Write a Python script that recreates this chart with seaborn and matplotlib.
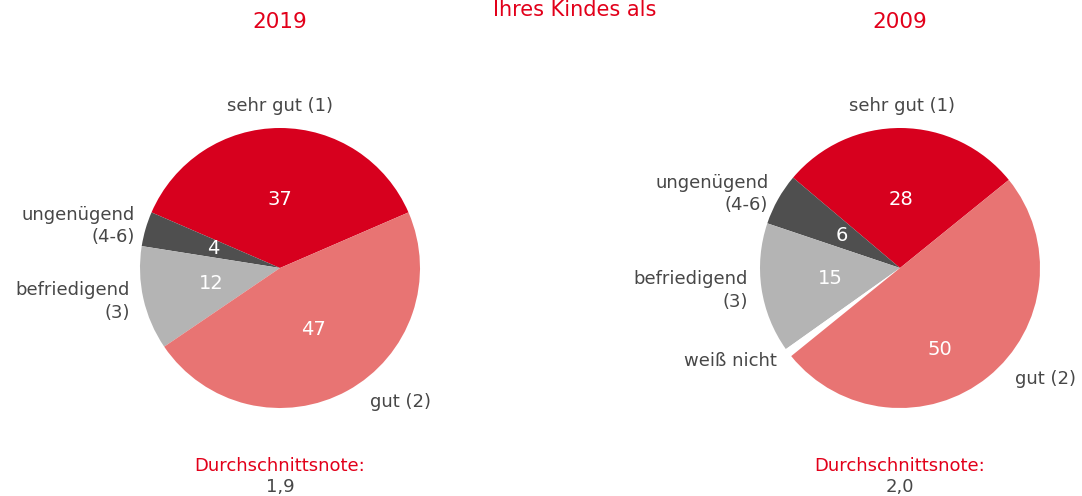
import matplotlib
matplotlib.use("Agg")
import matplotlib.pyplot as plt
import seaborn as sns
import numpy as np

sns.set_theme(style="white")
plt.rcParams['font.family'] = ['DejaVu Sans']

# ---- data ----
title_tail = "Ihres Kindes als"
years = ["2019", "2009"]
cats_2019 = ["sehr gut (1)", "ungenügend\n(4-6)", "befriedigend\n(3)", "gut (2)"]
vals_2019 = [37, 4, 12, 47]
cats_2009 = ["sehr gut (1)", "ungenügend\n(4-6)", "befriedigend\n(3)", "weiß nicht", "gut (2)"]
vals_2009 = [28, 6, 15, 1, 50]
show_2009 = [True, True, True, False, True]
avg_label = "Durchschnittsnote:"
avg_values = ["1,9", "2,0"]

RED = "#D7001E"
PINK = "#E87473"
DARK = "#4F4F4F"
LIGHT = "#B4B4B4"
TXT = "#474747"
TITLE_RED = "#E2001A"

colors_2019 = [RED, DARK, LIGHT, PINK]
colors_2009 = [RED, DARK, LIGHT, "white", PINK]

W, H = 1082, 496
fig = plt.figure(figsize=(W / 100, H / 100), dpi=100)

def add_pie(cx, cy, r, cats, vals, cols, start, show, pct_d, pct_off,
            lab_d, lab_off, lab_align):
    ax = fig.add_axes([(cx - r) / W, (H - cy - r) / H, 2 * r / W, 2 * r / H])
    wedges, _ = ax.pie(vals, colors=cols, startangle=start, counterclock=True,
                       radius=1, wedgeprops=dict(linewidth=0))
    ax.set_xlim(-1, 1)
    ax.set_ylim(-1, 1)
    ax.set_aspect("equal")
    ax.axis("off")
    for w, v, c, s, pd_, po, ld, lo, al in zip(wedges, vals, cats, show, pct_d,
                                               pct_off, lab_d, lab_off, lab_align):
        mid = (w.theta1 + w.theta2) / 2
        if s:
            a = np.deg2rad(mid + po)
            ax.text(pd_ * np.cos(a), pd_ * np.sin(a), str(v), color="white",
                    fontsize=14, ha="center", va="center")
        a = np.deg2rad(mid + lo)
        ax.text(ld * np.cos(a), ld * np.sin(a), c, color=TXT, fontsize=13,
                ha=al, va="center", multialignment=al,
                linespacing=1.3, clip_on=False)
    return ax

add_pie(280, 268, 140, cats_2019, vals_2019, colors_2019, 23.4,
        [True] * 4, [0.49, 0.5, 0.5, 0.5], [0, 0, 0, 0],
        [1.16, 1.08, 1.1, 1.15], [0, 0, 0, 5],
        ["center", "right", "right", "left"])
add_pie(900, 268, 140, cats_2009, vals_2009, colors_2009, 39.0,
        show_2009, [0.49, 0.48, 0.5, 0.5, 0.65], [0, 0, 0, 0, -13],
        [1.16, 1.08, 1.1, 1.1, 1.14], [0, 0, 0, 0, 7],
        ["center", "right", "right", "right", "left"])

# titles
fig.text(575 / W, 1.0, title_tail, color=TITLE_RED, fontsize=15,
         ha="center", va="top")
for x, yr, av in zip([280, 900], years, avg_values):
    fig.text(x / W, 1 - 22 / H, yr, color=TITLE_RED, fontsize=15.5,
             ha="center", va="center")
    fig.text(x / W, 1 - 466 / H, avg_label, color=TITLE_RED, fontsize=13,
             ha="center", va="center")
    fig.text(x / W, 1 - 487 / H, av, color=TXT, fontsize=13,
             ha="center", va="center")

fig.savefig("out.png", dpi=100)
